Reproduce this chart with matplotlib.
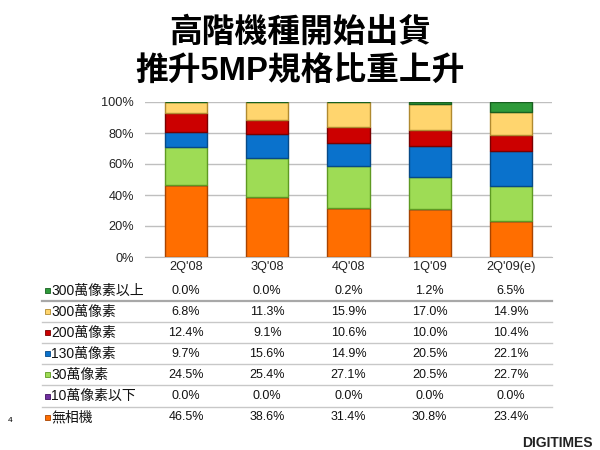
import matplotlib.pyplot as plt
from matplotlib.patches import Rectangle

cjk = ['Liberation Sans', 'Noto Sans CJK TC', 'DejaVu Sans']
plt.rcParams['font.family'] = cjk

quarters = ["2Q'08", "3Q'08", "4Q'08", "1Q'09", "2Q'09(e)"]

# bottom to top of each stacked bar
no_camera = [46.5, 38.6, 31.4, 30.8, 23.4]
under_10 = [0.0, 0.0, 0.0, 0.0, 0.0]
px_30 = [24.5, 25.4, 27.1, 20.5, 22.7]
px_130 = [9.7, 15.6, 14.9, 20.5, 22.1]
px_200 = [12.4, 9.1, 10.6, 10.0, 10.4]
px_300 = [6.8, 11.3, 15.9, 17.0, 14.9]
over_300 = [0.0, 0.0, 0.2, 1.2, 6.5]

names = ['無相機', '10萬像素以下', '30萬像素', '130萬像素',
         '200萬像素', '300萬像素', '300萬像素以上']
series = [no_camera, under_10, px_30, px_130, px_200, px_300, over_300]
colors = ['#FF6E00', '#7030A0', '#9EDC55', '#0A72CC',
          '#CC0000', '#FFD56E', '#2E9A3A']
edges = ['#A84400', '#40105F', '#5E9A22', '#064A88',
         '#7A0000', '#B08A30', '#186020']

fig = plt.figure(figsize=(6, 4.5), dpi=100)

# title
fig.text(0.5, 1 - 33 / 450, '高階機種開始出貨', ha='center', va='center',
         fontsize=23.6, fontweight='bold', family=cjk)
fig.text(0.5, 1 - 71 / 450, '推升5MP規格比重上升', ha='center', va='center',
         fontsize=23.6, fontweight='bold', family=cjk)

# stacked bar chart
ax = fig.add_axes([145 / 600, 1 - 257 / 450, 407 / 600, 155 / 450])
x = list(range(len(quarters)))
bottom = [0.0] * len(quarters)
for vals, c, e in zip(series, colors, edges):
    ax.bar(x, vals, width=0.52, bottom=bottom, color=c, edgecolor=e,
           linewidth=1.0, zorder=3)
    bottom = [b + v for b, v in zip(bottom, vals)]

ax.set_xlim(-0.5, 4.5)
ax.set_ylim(0, 100)
ax.set_yticks([0, 20, 40, 60, 80, 100])
ax.set_yticklabels([f'{t}%' for t in range(0, 101, 20)])
ax.set_xticks(x)
ax.set_xticklabels(quarters)
ax.tick_params(length=0, labelsize=9.2, colors='#222222')
ax.tick_params(axis='y', pad=8)
ax.tick_params(axis='x', pad=3)
ax.yaxis.grid(True, color='#BFBFBF', linewidth=1.0, zorder=0)
for s in ['left', 'right', 'top']:
    ax.spines[s].set_visible(False)
ax.spines['bottom'].set_color('#BFBFBF')

# data table below the chart (pixel coordinates)
tb = fig.add_axes([0, 0, 1, 1])
tb.set_xlim(0, 600)
tb.set_ylim(450, 0)
tb.axis('off')
tb.patch.set_alpha(0)

row_y0, row_step = 290.5, 21.1
col_x0, col_step = 186, 81.2
for j, idx in enumerate(range(len(series) - 1, -1, -1)):
    y = row_y0 + j * row_step
    tb.add_patch(Rectangle((45, y - 2.5), 5, 5, facecolor=colors[idx],
                           edgecolor=edges[idx], linewidth=0.6))
    tb.text(51, y, names[idx], ha='left', va='center', fontsize=10,
            color='#111111', family=cjk)
    for i, v in enumerate(series[idx]):
        tb.text(col_x0 + i * col_step, y, f'{v:.1f}%', ha='center',
                va='center', fontsize=9, color='#111111')
    if j < len(series) - 1:
        ly = y + row_step / 2
        if j == 0:
            tb.plot([42, 552], [ly, ly], color='#A8A8A8', linewidth=1.6)
        else:
            tb.plot([42, 552], [ly, ly], color='#C8C8C8', linewidth=1.0)

fig.text(8 / 600, 1 - 421 / 450, '4', fontsize=6, ha='left', va='center')
fig.text(593 / 600, 1 - 443 / 450, 'DIGITIMES', fontsize=10,
         fontweight='bold', ha='right', va='center', color='#222222')

fig.savefig('out.png', dpi=100)
